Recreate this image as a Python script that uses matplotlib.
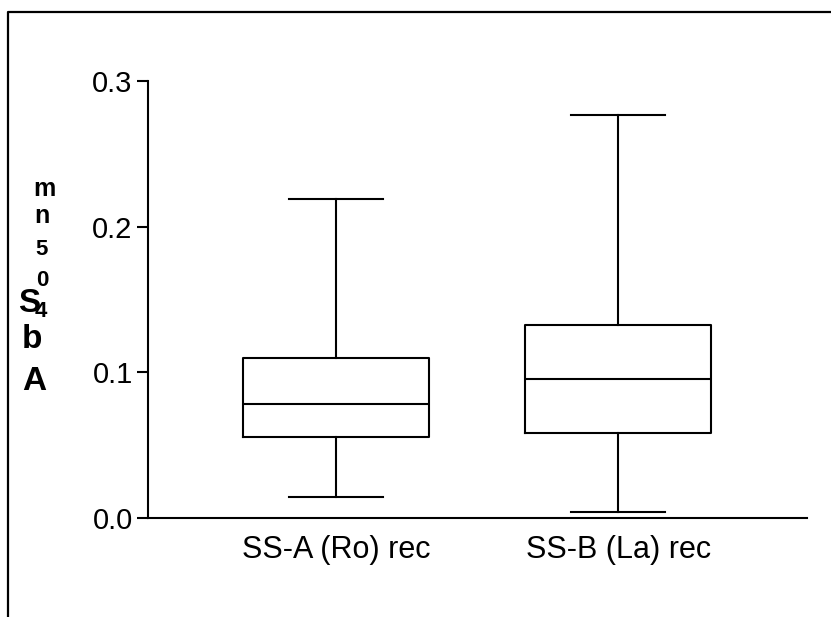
import matplotlib
matplotlib.use("Agg")
import matplotlib.pyplot as plt
from matplotlib.lines import Line2D

plt.rcParams['font.family'] = ['Liberation Sans', 'DejaVu Sans']

categories = ["SS-A (Ro) rec", "SS-B (La) rec"]
whislo = [0.0144, 0.0041]
q1 = [0.0556, 0.0584]
med = [0.0785, 0.0954]
q3 = [0.1100, 0.1325]
whishi = [0.2190, 0.2770]
yticks = [0.0, 0.1, 0.2, 0.3]
ytick_labels = ["0.0", "0.1", "0.2", "0.3"]

W, H = 831, 617
fig = plt.figure(figsize=(W / 100, H / 100), dpi=100)
ax = fig.add_axes([148 / W, (H - 518) / H, 659 / W, 437 / H])

stats = [dict(label=c, whislo=a, q1=b, med=m, q3=d, whishi=e, fliers=[])
         for c, a, b, m, d, e in zip(categories, whislo, q1, med, q3, whishi)]
lw = 1.5
ax.bxp(stats, positions=[1, 2], widths=0.66, capwidths=0.333, showfliers=False,
       boxprops=dict(color='black', linewidth=lw),
       whiskerprops=dict(color='black', linewidth=lw),
       capprops=dict(color='black', linewidth=lw),
       medianprops=dict(color='black', linewidth=lw))

ax.set_xlim(0.333, 2.670)
ax.set_ylim(0, 0.3)
ax.set_yticks(yticks)
ax.set_yticklabels(ytick_labels)
ax.set_xticks([1, 2])
ax.set_xticklabels(categories)
for s in ['top', 'right']:
    ax.spines[s].set_visible(False)
for s in ['left', 'bottom']:
    ax.spines[s].set_linewidth(lw)
ax.tick_params(axis='y', length=8, width=lw, pad=3, labelsize=21)
ax.tick_params(axis='x', length=0, pad=12, labelsize=22)

# stacked y-axis label characters (figure pixel coords)
def ptext(x, y, s, size):
    fig.text(x / W, 1 - y / H, s, ha='center', va='center', fontsize=size,
             fontweight='bold')

ptext(34, 382, "A", 24)
ptext(32, 340, "b", 24)
ptext(29, 303, "S", 24)
ptext(41, 312, "4", 16)
ptext(42, 280, "0", 16)
ptext(42, 250, "5", 16)
ptext(42, 216, "n", 18)
ptext(44, 189, "m", 18)

# outer frame (top and left)
fig.add_artist(Line2D([8 / W, 8 / W, 1.0], [0.0, 1 - 12 / H, 1 - 12 / H],
                      transform=fig.transFigure, color='black', linewidth=1.6))

fig.savefig("out.png", dpi=100)
